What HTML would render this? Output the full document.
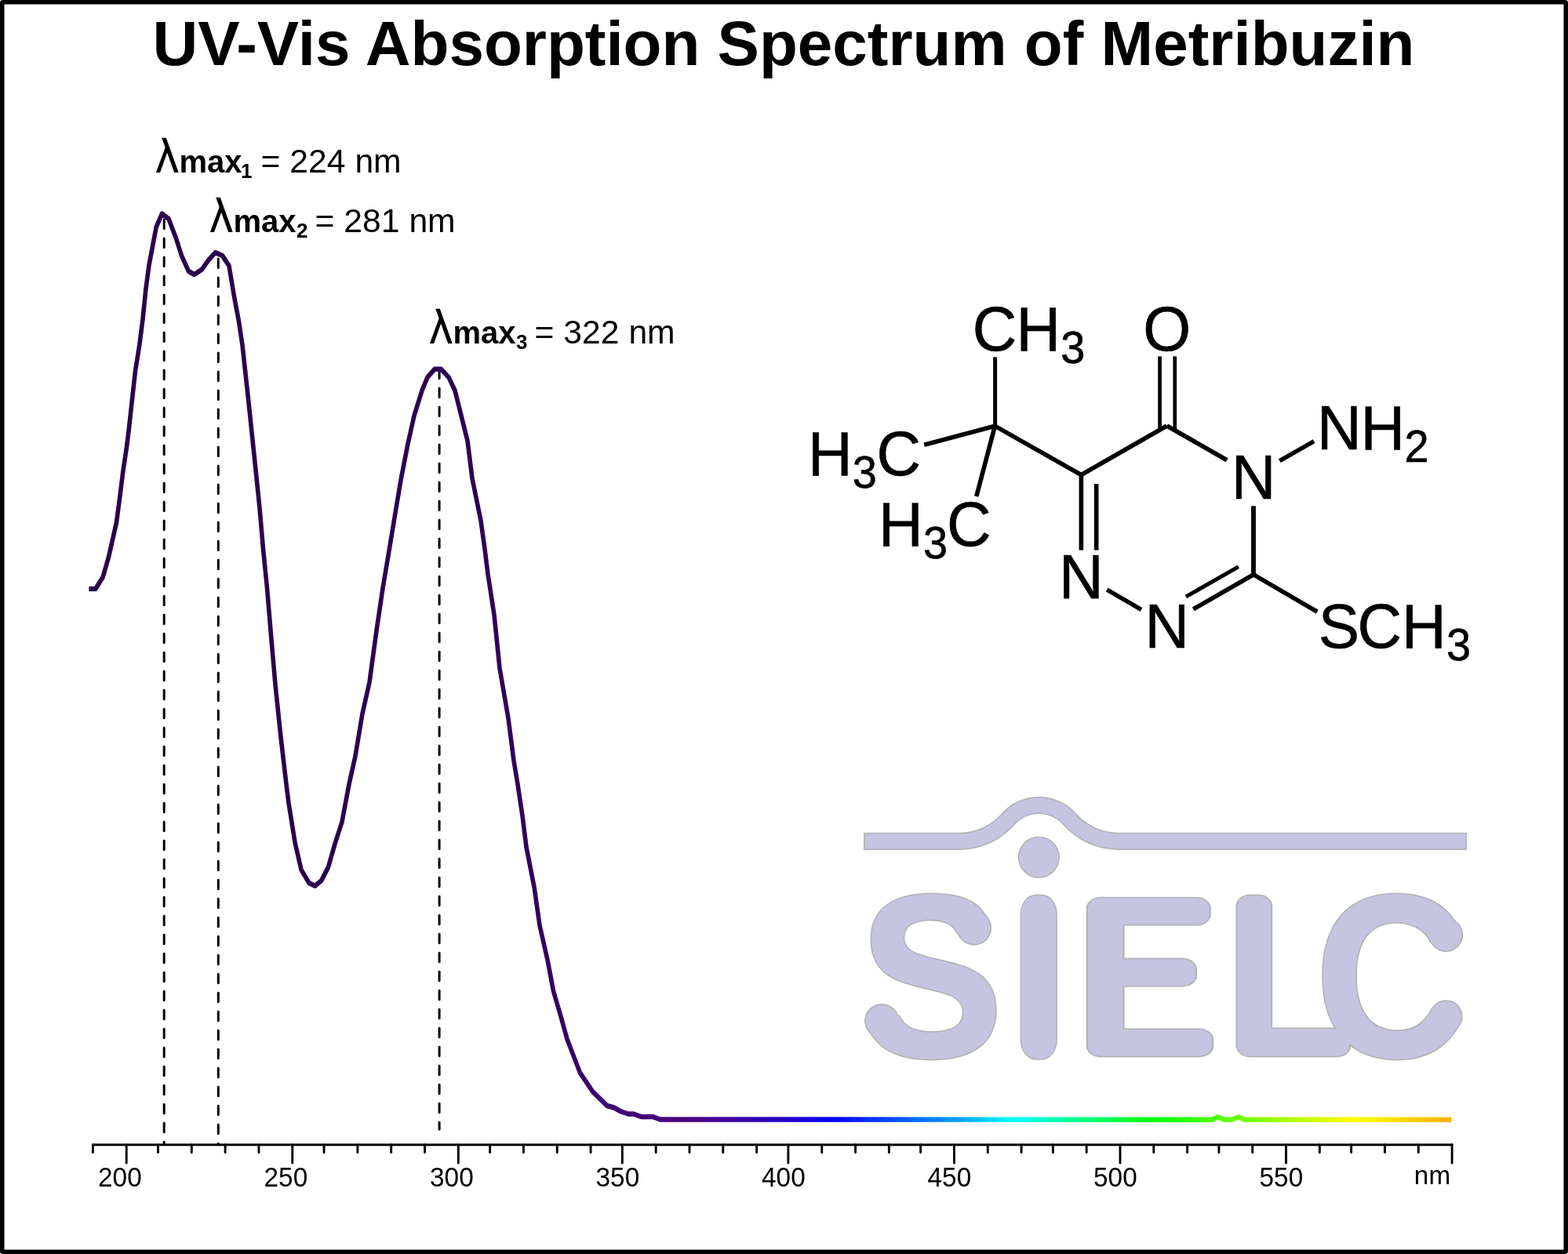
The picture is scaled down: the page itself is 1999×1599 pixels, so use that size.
<!DOCTYPE html>
<html lang="en">
<head>
<meta charset="utf-8">
<title>UV-Vis Absorption Spectrum of Metribuzin</title>
<style>
html,body{margin:0;padding:0;background:#fff;}
body{width:1999px;height:1599px;overflow:hidden;font-family:"Liberation Sans",sans-serif;}
svg{display:block;position:absolute;left:0;top:0;}
svg{font-family:"Liberation Sans",sans-serif;fill:#000;}
.lam{font-family:"WenQuanYi Zen Hei","DejaVu Sans",sans-serif;}
.lg1{font-family:"Noto Sans CJK SC","DejaVu Sans",sans-serif;font-weight:100;}
.lg2{font-family:"Liberation Sans",sans-serif;font-weight:700;}
</style>
</head>
<body>
<svg width="1999" height="1599" viewBox="0 0 1999 1599">
<defs>
<linearGradient id="spec" gradientUnits="userSpaceOnUse" x1="0" y1="0" x2="1999" y2="0">
<stop offset="0.0565" stop-color="#2a004a"/>
<stop offset="0.2801" stop-color="#2c0050"/>
<stop offset="0.3502" stop-color="#33005e"/>
<stop offset="0.3902" stop-color="#3c0070"/>
<stop offset="0.4202" stop-color="#45007a"/>
<stop offset="0.4427" stop-color="#4e0080"/>
<stop offset="0.4602" stop-color="#42009c"/>
<stop offset="0.4802" stop-color="#2e00b4"/>
<stop offset="0.5003" stop-color="#2400c8"/>
<stop offset="0.5323" stop-color="#0000ff"/>
<stop offset="0.5803" stop-color="#0060ff"/>
<stop offset="0.6103" stop-color="#00a0ff"/>
<stop offset="0.6453" stop-color="#00ffff"/>
<stop offset="0.6903" stop-color="#00ff80"/>
<stop offset="0.7354" stop-color="#00ff00"/>
<stop offset="0.8004" stop-color="#80ff00"/>
<stop offset="0.8629" stop-color="#ffff00"/>
<stop offset="0.9260" stop-color="#ffb000"/>
</linearGradient>
<clipPath id="clipS" clipPathUnits="userSpaceOnUse"><path clip-rule="evenodd" d="M0,0H1999V1599H0Z M1276.3,1181.0 L1208.8,1193.3 L1213.4,1218.9 L1280.9,1206.6Z M1089.9,1304.0 L1157.0,1291.7 L1152.3,1266.1 L1085.2,1278.5Z"/></clipPath><clipPath id="clipC" clipPathUnits="userSpaceOnUse"><path clip-rule="evenodd" d="M0,0H1999V1599H0Z M1876.5,1184.3 L1813.0,1207.4 L1821.9,1231.9 L1885.4,1208.7Z M1815.0,1279.3 L1875.5,1305.2 L1885.8,1281.3 L1825.3,1255.4Z"/></clipPath>
</defs>
<!-- frame -->
<rect x="2.75" y="2.75" width="1993.5" height="1593.5" rx="1" ry="1" fill="#fff" stroke="#000" stroke-width="5.5" stroke-linejoin="round"/>
<!-- title -->
<text id="title" x="999" y="83" text-anchor="middle" font-size="80" font-weight="bold">UV-Vis Absorption Spectrum of Metribuzin</text>
<!-- SIELC logo -->
<g id="logo">
<g stroke-linejoin="round" stroke-linecap="round" aria-label="SIELC"><title>SIELC</title>
<path d="M1101,1072.8 H1222.4 A84.1 84.1 0 0 0 1285.37,1044.44 A52.2 52.2 0 0 1 1363.43,1044.44 A84.1 84.1 0 0 0 1426.4,1072.8 H1870" fill="none" stroke="#b3b3b3" stroke-width="22.25" stroke-linecap="butt"/>
<circle cx="1324.4" cy="1093.1" r="26.6" fill="#b3b3b3"/>
<g clip-path="url(#clipS)"><text class="lg2" transform="translate(1095.35,1346.48) scale(0.9357,1)" font-size="293.91" stroke-width="5.76" fill="#b3b3b3" stroke="#b3b3b3">S</text></g><text class="lg1" transform="translate(1301.71,1325.72) scale(0.7997,1)" font-size="219.86" stroke-width="51.16" fill="#b3b3b3" stroke="#b3b3b3">I</text><text class="lg1" transform="translate(1369.02,1333.74) scale(1.2913,1)" font-size="241.88" stroke-width="28.93" fill="#b3b3b3" stroke="#b3b3b3">E</text><text class="lg1" transform="translate(1561.14,1333.29) scale(1.2014,1)" font-size="244.93" stroke-width="29.82" fill="#b3b3b3" stroke="#b3b3b3">L</text><g clip-path="url(#clipC)"><text class="lg2" transform="translate(1676.71,1346.48) scale(0.9230,1)" font-size="293.91" stroke-width="5.76" fill="#b3b3b3" stroke="#b3b3b3">C</text></g>
<circle cx="1241.8" cy="1183.2" r="22.3" fill="#b3b3b3"/><circle cx="1124.2" cy="1301.8" r="22.1" fill="#b3b3b3"/><circle cx="1843.35" cy="1192.1" r="21.8" fill="#b3b3b3"/><circle cx="1843.7" cy="1295.9" r="20.9" fill="#b3b3b3"/>
<path d="M1102.6,1072.8 H1222.4 A84.1 84.1 0 0 0 1285.37,1044.44 A52.2 52.2 0 0 1 1363.43,1044.44 A84.1 84.1 0 0 0 1426.4,1072.8 H1868.4" fill="none" stroke="#c5c5e2" stroke-width="19" stroke-linecap="butt"/>
<circle cx="1324.4" cy="1093.1" r="25" fill="#c5c5e2"/>
<g clip-path="url(#clipS)"><text class="lg2" transform="translate(1095.35,1346.48) scale(0.9357,1)" font-size="293.91" stroke-width="2.36" fill="#c5c5e2" stroke="#c5c5e2">S</text></g><text class="lg1" transform="translate(1301.71,1325.72) scale(0.7997,1)" font-size="219.86" stroke-width="47.76" fill="#c5c5e2" stroke="#c5c5e2">I</text><text class="lg1" transform="translate(1369.02,1333.74) scale(1.2913,1)" font-size="241.88" stroke-width="25.53" fill="#c5c5e2" stroke="#c5c5e2">E</text><text class="lg1" transform="translate(1561.14,1333.29) scale(1.2014,1)" font-size="244.93" stroke-width="26.42" fill="#c5c5e2" stroke="#c5c5e2">L</text><g clip-path="url(#clipC)"><text class="lg2" transform="translate(1676.71,1346.48) scale(0.9230,1)" font-size="293.91" stroke-width="2.36" fill="#c5c5e2" stroke="#c5c5e2">C</text></g>
<circle cx="1241.8" cy="1183.2" r="20.6" fill="#c5c5e2"/><circle cx="1124.2" cy="1301.8" r="20.400000000000002" fill="#c5c5e2"/><circle cx="1843.35" cy="1192.1" r="20.1" fill="#c5c5e2"/><circle cx="1843.7" cy="1295.9" r="19.2" fill="#c5c5e2"/>
</g>
</g>
<!-- dashed guides -->
<g stroke="#000" stroke-width="3" stroke-linecap="round" stroke-dasharray="11.5 12.5" fill="none">
<line x1="209.2" y1="280" x2="209.2" y2="1459"/>
<line x1="278.3" y1="330" x2="278.3" y2="1459"/>
<line x1="560.1" y1="471" x2="560.1" y2="1440"/>
</g>
<!-- spectrum -->
<polyline id="curve" transform="scale(1,1.15)" points="113.40,652.96 121.80,652.96 131.10,639.91 138.30,618.35 148.50,579.22 152.50,553.04 157.00,521.74 161.50,495.65 164.10,477.39 172.50,411.30 177.80,382.61 182.00,353.91 186.00,320.00 190.00,293.91 199.20,251.74 206.50,236.96 215.00,242.61 224.50,264.35 231.50,283.48 240.50,300.87 247.80,304.35 257.50,298.70 265.50,288.70 274.50,280.00 283.50,283.48 292.00,294.78 298.50,328.70 304.50,356.52 309.00,382.61 316.00,438.26 324.00,504.35 331.00,563.48 335.50,608.70 340.50,652.17 345.70,706.09 351.00,759.13 358.00,817.39 365.00,869.57 368.00,890.43 376.00,933.91 384.00,964.35 394.00,979.13 401.60,982.26 409.60,976.52 418.40,961.74 427.00,935.65 436.00,911.30 445.00,869.57 453.00,838.26 462.00,791.30 471.00,756.52 480.00,699.13 488.00,652.17 496.40,608.70 503.00,573.91 511.00,532.17 520.00,492.17 528.00,460.87 538.00,433.04 545.00,418.26 554.20,409.22 562.20,409.22 572.00,418.26 580.00,433.04 596.00,488.70 602.00,530.43 613.00,577.39 618.00,608.70 622.00,636.52 630.00,681.74 637.00,740.87 648.00,796.52 655.00,843.48 660.00,869.57 666.00,904.35 671.00,939.13 681.20,984.35 688.00,1026.09 698.00,1064.35 705.60,1099.13 715.00,1126.96 723.00,1152.17 739.50,1189.57 756.00,1210.87 774.00,1226.09 783.00,1228.26 791.00,1232.17 801.00,1235.22 808.00,1235.22 817.50,1238.26 832.50,1238.26 841.50,1241.30 1546.00,1241.48 1552.60,1238.52 1561.60,1241.48 1569.90,1241.48 1579.40,1238.52 1585.70,1241.48 1850.40,1241.48" fill="none" stroke="url(#spec)" stroke-width="5.6" stroke-linejoin="round" stroke-linecap="butt"/>
<!-- axis -->
<g stroke="#000" stroke-width="2.9" stroke-linecap="round" fill="none">
<line x1="118.4" y1="1459.7" x2="1851.13" y2="1459.7"/>
<line x1="118.40" y1="1459.7" x2="118.40" y2="1469.5"/>
<line x1="161.21" y1="1459.7" x2="161.21" y2="1483.1"/>
<line x1="201.51" y1="1459.7" x2="201.51" y2="1469.5"/>
<line x1="244.32" y1="1459.7" x2="244.32" y2="1469.5"/>
<line x1="287.14" y1="1459.7" x2="287.14" y2="1469.5"/>
<line x1="329.95" y1="1459.7" x2="329.95" y2="1469.5"/>
<line x1="372.77" y1="1459.7" x2="372.77" y2="1483.1"/>
<line x1="413.06" y1="1459.7" x2="413.06" y2="1469.5"/>
<line x1="455.88" y1="1459.7" x2="455.88" y2="1469.5"/>
<line x1="498.69" y1="1459.7" x2="498.69" y2="1469.5"/>
<line x1="541.51" y1="1459.7" x2="541.51" y2="1469.5"/>
<line x1="584.32" y1="1459.7" x2="584.32" y2="1483.1"/>
<line x1="624.62" y1="1459.7" x2="624.62" y2="1469.5"/>
<line x1="667.43" y1="1459.7" x2="667.43" y2="1469.5"/>
<line x1="710.25" y1="1459.7" x2="710.25" y2="1469.5"/>
<line x1="753.06" y1="1459.7" x2="753.06" y2="1469.5"/>
<line x1="793.36" y1="1459.7" x2="793.36" y2="1483.1"/>
<line x1="836.17" y1="1459.7" x2="836.17" y2="1469.5"/>
<line x1="878.99" y1="1459.7" x2="878.99" y2="1469.5"/>
<line x1="921.80" y1="1459.7" x2="921.80" y2="1469.5"/>
<line x1="964.62" y1="1459.7" x2="964.62" y2="1469.5"/>
<line x1="1004.91" y1="1459.7" x2="1004.91" y2="1483.1"/>
<line x1="1047.73" y1="1459.7" x2="1047.73" y2="1469.5"/>
<line x1="1090.54" y1="1459.7" x2="1090.54" y2="1469.5"/>
<line x1="1133.36" y1="1459.7" x2="1133.36" y2="1469.5"/>
<line x1="1173.65" y1="1459.7" x2="1173.65" y2="1469.5"/>
<line x1="1216.47" y1="1459.7" x2="1216.47" y2="1483.1"/>
<line x1="1259.28" y1="1459.7" x2="1259.28" y2="1469.5"/>
<line x1="1302.10" y1="1459.7" x2="1302.10" y2="1469.5"/>
<line x1="1342.39" y1="1459.7" x2="1342.39" y2="1469.5"/>
<line x1="1385.21" y1="1459.7" x2="1385.21" y2="1469.5"/>
<line x1="1428.02" y1="1459.7" x2="1428.02" y2="1483.1"/>
<line x1="1470.83" y1="1459.7" x2="1470.83" y2="1469.5"/>
<line x1="1513.65" y1="1459.7" x2="1513.65" y2="1469.5"/>
<line x1="1553.95" y1="1459.7" x2="1553.95" y2="1469.5"/>
<line x1="1596.76" y1="1459.7" x2="1596.76" y2="1469.5"/>
<line x1="1639.57" y1="1459.7" x2="1639.57" y2="1483.1"/>
<line x1="1682.39" y1="1459.7" x2="1682.39" y2="1469.5"/>
<line x1="1722.68" y1="1459.7" x2="1722.68" y2="1469.5"/>
<line x1="1765.50" y1="1459.7" x2="1765.50" y2="1469.5"/>
<line x1="1808.31" y1="1459.7" x2="1808.31" y2="1469.5"/>
<line x1="1851.13" y1="1459.7" x2="1851.13" y2="1483.1"/>
</g>
<g font-size="33.33">
<text transform="translate(180.70,1513.1) scale(1,1.04)" text-anchor="end">200</text>
<text transform="translate(392.20,1513.1) scale(1,1.04)" text-anchor="end">250</text>
<text transform="translate(603.70,1513.1) scale(1,1.04)" text-anchor="end">300</text>
<text transform="translate(815.20,1513.1) scale(1,1.04)" text-anchor="end">350</text>
<text transform="translate(1026.70,1513.1) scale(1,1.04)" text-anchor="end">400</text>
<text transform="translate(1238.20,1513.1) scale(1,1.04)" text-anchor="end">450</text>
<text transform="translate(1449.70,1513.1) scale(1,1.04)" text-anchor="end">500</text>
<text transform="translate(1661.20,1513.1) scale(1,1.04)" text-anchor="end">550</text>
<text x="1826" y="1510" text-anchor="middle">nm</text>
</g>
<!-- peak labels -->
<g id="peaks">
<text class="lam" transform="translate(198.10,219.50) scale(0.895,1)" font-size="64">λ</text><text><tspan x="228.40" y="219.50" font-size="40" font-weight="bold">max</tspan><tspan x="307.00" y="227.00" font-size="26" font-weight="bold">1</tspan><tspan x="332.60" y="219.50" font-size="42.67">= 224 nm</tspan></text>
<text class="lam" transform="translate(267.10,295.50) scale(0.895,1)" font-size="64">λ</text><text><tspan x="297.40" y="295.50" font-size="40" font-weight="bold">max</tspan><tspan x="378.00" y="303.00" font-size="26" font-weight="bold">2</tspan><tspan x="401.60" y="295.50" font-size="42.67">= 281 nm</tspan></text>
<text class="lam" transform="translate(547.10,437.50) scale(0.895,1)" font-size="64">λ</text><text><tspan x="577.40" y="437.50" font-size="40" font-weight="bold">max</tspan><tspan x="658.00" y="445.00" font-size="26" font-weight="bold">3</tspan><tspan x="681.60" y="437.50" font-size="42.67">= 322 nm</tspan></text>
</g>
<!-- molecule -->
<g id="mol">
<g stroke="#000" stroke-width="4.8" stroke-linecap="butt" fill="none">
<line x1="1268.6" y1="455.4" x2="1268.6" y2="543.2" stroke-width="5.0"/>
<line x1="1268.4" y1="543.2" x2="1178.2" y2="567.3" stroke-width="5.6"/>
<line x1="1268.4" y1="543.2" x2="1244.8" y2="633.0" stroke-width="5.6"/>
<line x1="1268.4" y1="543.2" x2="1378.4" y2="605.5" stroke-width="5.6"/>
<line x1="1378.4" y1="605.5" x2="1487.6" y2="543.0" stroke-width="5.6"/>
<line x1="1478.6" y1="454.4" x2="1478.6" y2="548.0" stroke-width="4.7"/>
<line x1="1497.8" y1="454.4" x2="1497.8" y2="548.0" stroke-width="4.7"/>
<line x1="1487.6" y1="543.0" x2="1564.2" y2="586.7" stroke-width="5.8"/>
<line x1="1631.4" y1="587.6" x2="1675.2" y2="562.6" stroke-width="5.6"/>
<line x1="1598.0" y1="645.2" x2="1598.0" y2="732.7" stroke-width="5.9"/>
<line x1="1598.0" y1="732.7" x2="1679.2" y2="780.0" stroke-width="5.6"/>
<line x1="1598.0" y1="732.7" x2="1521.3" y2="776.8" stroke-width="5.6"/>
<line x1="1578.9" y1="722.7" x2="1511.9" y2="760.9" stroke-width="5.0"/>
<line x1="1455.0" y1="777.4" x2="1411.2" y2="751.8" stroke-width="5.6"/>
<line x1="1378.4" y1="605.5" x2="1378.4" y2="701.5" stroke-width="5.6"/>
<line x1="1397.7" y1="617.0" x2="1397.7" y2="701.5" stroke-width="5.6"/>
</g>
<g font-size="78.5" stroke="#000" stroke-width="0.6" stroke-linejoin="round">
<text transform="translate(0,446.8) scale(1,1.025)"><tspan x="1239.65">C</tspan><tspan x="1295.44">H</tspan><tspan x="1352.30" font-size="56" dy="15.41">3</tspan></text>
<text transform="translate(0,447.2) scale(1,1.025)"><tspan x="1457.13">O</tspan></text>
<text transform="translate(0,606.3) scale(1,1.025)"><tspan x="1029.99">H</tspan><tspan x="1086.65" font-size="56" dy="15.41">3</tspan><tspan x="1117.55" dy="-15.41">C</tspan></text>
<text transform="translate(0,695.8) scale(1,1.025)"><tspan x="1120.04">H</tspan><tspan x="1176.90" font-size="56" dy="15.41">3</tspan><tspan x="1207.05" dy="-15.41">C</tspan></text>
<text transform="translate(0,636.3) scale(1,1.025)"><tspan x="1569.64">N</tspan></text>
<text transform="translate(0,573.2) scale(1,1.025)"><tspan x="1678.94">N</tspan><tspan x="1734.59">H</tspan><tspan x="1790.56" font-size="56" dy="15.41">2</tspan></text>
<text transform="translate(0,762.5) scale(1,1.025)"><tspan x="1349.99">N</tspan></text>
<text transform="translate(0,825.6) scale(1,1.025)"><tspan x="1459.49">N</tspan></text>
<text transform="translate(0,825.9) scale(1,1.025)"><tspan x="1680.65">S</tspan><tspan x="1730.60">C</tspan><tspan x="1787.04">H</tspan><tspan x="1843.95" font-size="56" dy="15.41">3</tspan></text>
</g>
</g>
</svg>
</body>
</html>
